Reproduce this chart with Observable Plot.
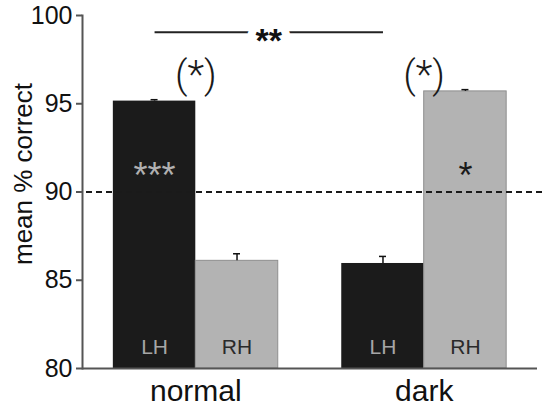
<!DOCTYPE html>
<html>
<head>
<meta charset="utf-8">
<script src="https://cdn.jsdelivr.net/npm/d3@7"></script>
<script src="https://cdn.jsdelivr.net/npm/@observablehq/plot@0.6"></script>
<style>
  html, body { margin: 0; padding: 0; background: #fff; }
  svg { display: block; }
</style>
</head>
<body>
<div id="chart"></div>
<script>
// ---- data ----
const groups = ["normal", "dark"];
const hemispheres = ["LH", "RH"];
const normalMeans = [95.15, 86.1];
const darkMeans = [85.95, 95.7];
const normalErrs = [0.08, 0.4];
const darkErrs = [0.4, 0.1];
const normalStars = ["***", ""];
const darkStars = ["", "*"];
const groupStars = ["(*)", "(*)"];
const betweenStars = ["**"];
const yTicks = [80, 85, 90, 95, 100];
const chanceLevel = [90];
const yLabel = ["mean % correct"];

// annotation levels (in % correct)
const starLevel = 91.4;
const groupStarLevel = 96.6;
const sigLevel = 99.05;
const hemiLabelLevel = 81.2;

const rows = [];
groups.forEach((g, gi) => {
  const means = gi === 0 ? normalMeans : darkMeans;
  const errs = gi === 0 ? normalErrs : darkErrs;
  const stars = gi === 0 ? normalStars : darkStars;
  hemispheres.forEach((h, hi) => {
    rows.push({group: g, hemi: h, mean: means[hi], err: errs[hi], star: stars[hi]});
  });
});
const LH = rows.filter(d => d.hemi === "LH");
const RH = rows.filter(d => d.hemi === "RH");

const W = 543, H = 409;
const mL = 82, mR = 6, mT = 15, mB = 41;
const xOpts = {type: "band", domain: groups, paddingInner: 0.278, paddingOuter: 0.135, round: false};
const bw = d3.scaleBand().domain(groups).range([mL, W - mR])
  .paddingInner(xOpts.paddingInner).paddingOuter(xOpts.paddingOuter).bandwidth();
const h = bw / 2;

const font = "'Liberation Sans', Arial, Helvetica, sans-serif";
const black = "#1b1b1b", gray = "#b3b3b3";

const plot = Plot.plot({
  width: W,
  height: H,
  marginLeft: mL,
  marginRight: mR,
  marginTop: mT,
  marginBottom: mB,
  style: {fontFamily: font, color: "#111", background: "#fff"},
  x: {...xOpts, label: null, axis: null},
  y: {domain: [80, 100], label: null, axis: null},
  marks: [
    // bars
    Plot.barY(LH, {x: "group", y1: 80, y2: "mean", fill: black, insetRight: h}),
    Plot.barY(RH, {x: "group", y1: 80, y2: "mean", fill: gray, stroke: "#8e8e8e", strokeWidth: 1, insetLeft: h}),
    // error bars
    Plot.ruleX(LH, {x: "group", y1: "mean", y2: d => d.mean + d.err, dx: -h / 2, stroke: "#111", strokeWidth: 1.5}),
    Plot.ruleX(RH, {x: "group", y1: "mean", y2: d => d.mean + d.err, dx: h / 2, stroke: "#111", strokeWidth: 1.5}),
    Plot.tickY(LH, {x: "group", y: d => d.mean + d.err, insetLeft: h / 2 - 3.5, insetRight: bw - h / 2 - 3.5, stroke: "#111", strokeWidth: 1.5}),
    Plot.tickY(RH, {x: "group", y: d => d.mean + d.err, insetLeft: h + h / 2 - 3.5, insetRight: h / 2 - 3.5, stroke: "#111", strokeWidth: 1.5}),
    // chance line
    Plot.ruleY(chanceLevel, {stroke: "#1a1a1a", strokeWidth: 2.2, strokeDasharray: "6,4", insetLeft: 4, insetRight: -6}),
    // baseline and y axis line
    Plot.ruleY([80], {stroke: "#555", strokeWidth: 2}),
    Plot.frame({anchor: "left", stroke: "#555", strokeWidth: 2}),
    Plot.axisY({ticks: yTicks, tickSize: 6, tickFormat: () => "", stroke: "#555", strokeWidth: 2, label: null}),
    Plot.text(yTicks, {y: d => d, text: d => String(d), frameAnchor: "left", textAnchor: "end", dx: -10, fontSize: 25, fill: "#111"}),
    Plot.axisX({tickSize: 0, tickPadding: 11, fontSize: 30, label: null, fill: "#111"}),
    // y label
    Plot.text(yLabel, {text: d => d, frameAnchor: "left", textAnchor: "middle", rotate: -90, dx: -59, dy: -18, fontSize: 26, fill: "#111"}),
    // hemisphere labels
    Plot.text(LH, {x: "group", y: () => hemiLabelLevel, text: "hemi", dx: -h / 2, fontSize: 21, fill: "#a6a6a6"}),
    Plot.text(RH, {x: "group", y: () => hemiLabelLevel, text: "hemi", dx: h / 2, fontSize: 21, fill: "#2a2a2a"}),
    // within-bar stars
    Plot.text(LH, {x: "group", y: () => starLevel, text: "star", dx: -h / 2, dy: 9, fontSize: 36, fill: "#b0b0b0"}),
    Plot.text(RH, {x: "group", y: () => starLevel, text: "star", dx: h / 2, dy: 9, fontSize: 36, fill: "#1a1a1a"}),
    // group stars
    Plot.text(groups, {x: d => d, y: () => groupStarLevel, text: (d, i) => groupStars[i], fontSize: 39, fontFamily: "Roboto, 'Liberation Sans', sans-serif", fontWeight: 300, fill: "#1a1a1a"}),
    // between-condition comparison line
    Plot.link([{a: groups[0], b: groups[1]}], {x1: "a", x2: "b", y1: () => sigLevel, y2: () => sigLevel, dx: -h / 2, stroke: "#222", strokeWidth: 2}),
    Plot.text(betweenStars, {text: d => d, y: () => sigLevel, frameAnchor: "middle", dx: -h / 2, dy: 9, fontSize: 34, fontWeight: "bold", fill: "#111", stroke: "#fff", strokeWidth: 16, paintOrder: "stroke"})
  ]
});
document.getElementById("chart").appendChild(plot);
</script>
</body>
</html>
